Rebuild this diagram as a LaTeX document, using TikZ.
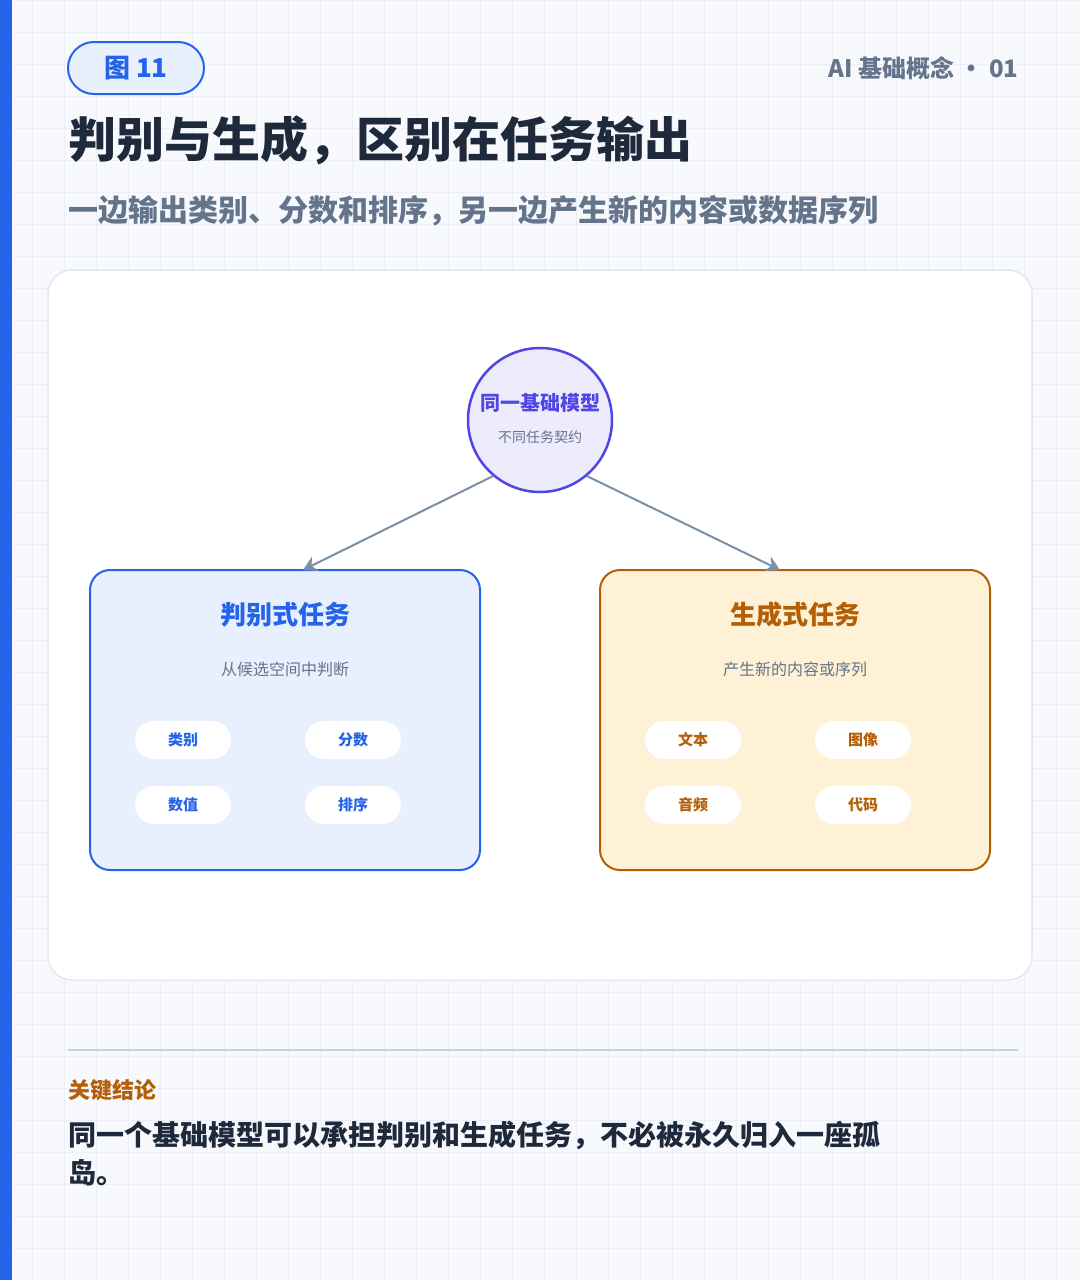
\documentclass[tikz,border=0pt]{standalone}
\usepackage{fontspec}
\setmainfont{Noto Sans CJK SC}
\usetikzlibrary{arrows.meta}
\definecolor{bg}{HTML}{F7F9FC}
\definecolor{gridc}{HTML}{ECF0F6}
\definecolor{blue}{HTML}{2563EB}
\definecolor{lblue}{HTML}{E8F0FE}
\definecolor{dark}{HTML}{1E293B}
\definecolor{gray}{HTML}{64748B}
\definecolor{bord}{HTML}{E2E8F0}
\definecolor{purp}{HTML}{4F46E5}
\definecolor{lpurp}{HTML}{EEEBFD}
\definecolor{org}{HTML}{B45F06}
\definecolor{lorg}{HTML}{FEF1D6}
\definecolor{arr}{HTML}{7A90A8}
\begin{document}
\begin{tikzpicture}[x=1pt,y=-1pt,
  fs/.style={font=\fontsize{#1}{#1}\selectfont},
  fb/.style={font=\fontsize{#1}{#1}\selectfont\bfseries},
  box/.style={draw,line width=2pt,rounded corners=20pt,minimum width=390pt,minimum height=300pt},
  pill/.style={fill=white,rounded corners=19pt,minimum width=96pt,minimum height=38pt,fb=15,inner sep=0pt},
  con/.style={draw=arr,line width=2pt,-{Stealth[length=14pt,width=16pt]}}]
\useasboundingbox (0,0) rectangle (1080,1280);
\fill[bg] (0,0) rectangle (1080,1280);
\foreach \i in {0,32,...,1080} \draw[gridc,line width=0.6pt] (\i,0) -- (\i,1280);
\foreach \i in {0,32,...,1280} \draw[gridc,line width=0.6pt] (0,\i) -- (1080,\i);
\fill[blue] (0,0) rectangle (12,1280);
\node[draw=blue,fill=lblue,line width=2pt,rounded corners=26pt,minimum width=136pt,minimum height=52pt,text=blue,fb=26] (tag) at (136,68) {图 11};
\node[anchor=east,text=gray,fb=24] (sec) at (1022,68) {AI 基础概念 · 01};
\node[anchor=west,text=dark,fb=48,inner sep=0pt] (title) at (68,140) {判别与生成，区别在任务输出};
\node[anchor=west,text=gray,fb=30,inner sep=0pt] (sub) at (68,211) {一边输出类别、分数和排序，另一边产生新的内容或数据序列};
\draw[bord,fill=white,line width=1.5pt,rounded corners=24pt] (48,270) rectangle (1032,980);
\node[circle,draw=purp,fill=lpurp,line width=2.5pt,minimum size=144pt] (c) at (540,420) {};
\node[text=purp,fb=20] (ct) at (540,403) {同一基础模型};
\node[text=gray,fs=14] (cs) at (540,437) {不同任务契约};
\node[box,draw=blue,fill=lblue] (L) at (285,720) {};
\node[box,draw=org,fill=lorg] (R) at (795,720) {};
\node[text=blue,fb=26] (lt) at (285,615) {判别式任务};
\node[text=gray,fs=16] (ls) at (285,669) {从候选空间中判断};
\node[text=org,fb=26] (rt) at (795,615) {生成式任务};
\node[text=gray,fs=16] (rs) at (795,669) {产生新的内容或序列};
\node[pill,text=blue] (p1) at (183,740) {类别};
\node[pill,text=blue] (p2) at (353,740) {分数};
\node[pill,text=blue] (p3) at (183,805) {数值};
\node[pill,text=blue] (p4) at (353,805) {排序};
\node[pill,text=org] (q1) at (693,740) {文本};
\node[pill,text=org] (q2) at (863,740) {图像};
\node[pill,text=org] (q3) at (693,805) {音频};
\node[pill,text=org] (q4) at (863,805) {代码};
\coordinate (lt0) at (303,570);
\coordinate (rt0) at (780,570);
\draw[con] (c.-130) -- (lt0);
\draw[con] (c.-50) -- (rt0);
\draw[bord!80!gray,line width=1.5pt] (68,1050) -- (1018,1050);
\node[anchor=west,text=org,fb=22,inner sep=0pt] (kt) at (68,1090) {关键结论};
\node[anchor=north west,text=dark,fb=28,inner sep=0pt,align=left] (kc) at (68,1121) {同一个基础模型可以承担判别和生成任务，不必被永久归入一座孤\\[9pt]岛。};
\end{tikzpicture}
\end{document}
